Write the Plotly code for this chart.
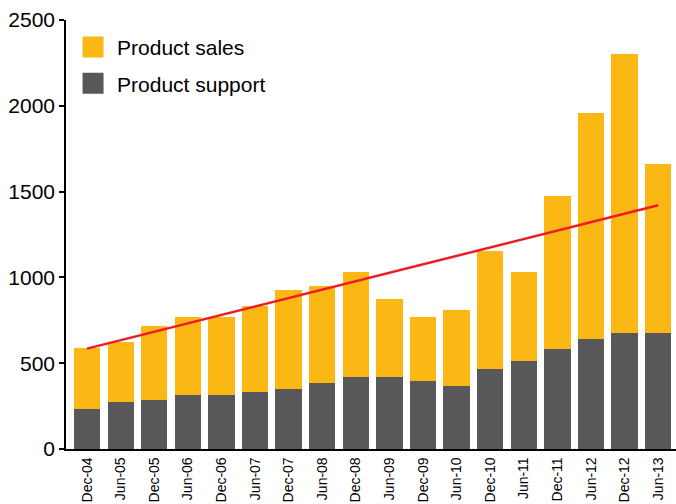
import plotly.graph_objects as go

periods = ["Dec-04", "Jun-05", "Dec-05", "Jun-06", "Dec-06", "Jun-07", "Dec-07", "Jun-08",
           "Dec-08", "Jun-09", "Dec-09", "Jun-10", "Dec-10", "Jun-11", "Dec-11", "Jun-12",
           "Dec-12", "Jun-13"]
product_support = [235, 275, 285, 315, 315, 335, 350, 385, 420, 420, 395, 370, 465, 510, 580, 640, 675, 675]
product_total = [590, 625, 715, 770, 770, 835, 925, 950, 1030, 875, 770, 810, 1155, 1030, 1475, 1960, 2300, 1660]
product_sales = [t - s for t, s in zip(product_total, product_support)]
trend_x = [periods[0], periods[-1]]
trend_y = [585, 1420]
y_ticks = [0, 500, 1000, 1500, 2000, 2500]

YELLOW = "#FBB814"
GREY = "#58585A"
RED = "#ED1C24"
FONT = "Liberation Sans, Arial, Helvetica, sans-serif"

fig = go.Figure()
fig.add_trace(go.Bar(x=periods, y=product_support, marker=dict(color=GREY, line=dict(width=0)),
                     showlegend=False, name="Product support"))
fig.add_trace(go.Bar(x=periods, y=product_sales, marker=dict(color=YELLOW, line=dict(width=0)),
                     showlegend=False, name="Product sales"))
fig.add_trace(go.Scatter(x=trend_x, y=trend_y, mode="lines", line=dict(color=RED, width=2.5),
                         showlegend=False, hoverinfo="skip"))
# legend entries
fig.add_trace(go.Scatter(x=[None], y=[None], mode="markers", name="Product sales", legendgroup="a",
                         marker=dict(symbol="square", size=16, color=YELLOW, line=dict(color=YELLOW, width=5))))
fig.add_trace(go.Scatter(x=[None], y=[None], mode="markers", name="Product support", legendgroup="b",
                         marker=dict(symbol="square", size=16, color=GREY, line=dict(color=GREY, width=5))))

fig.update_layout(
    width=676, height=504,
    margin=dict(l=66, r=0, t=20, b=55),
    barmode="stack", bargap=0.22,
    plot_bgcolor="white", paper_bgcolor="white",
    font=dict(family=FONT, color="black"),
    legend=dict(x=0.005, y=0.984, xanchor="left", yanchor="top", font=dict(size=21, family=FONT),
                itemwidth=38, traceorder="grouped", tracegroupgap=6, bgcolor="rgba(0,0,0,0)"),
    xaxis=dict(type="category", range=[-0.625, 17.53], showgrid=False, showline=True,
               linecolor="black", linewidth=1.5, tickangle=-90, ticks="outside", ticklen=1,
               tickcolor="rgba(0,0,0,0)", automargin=False,
               tickfont=dict(size=14, family=FONT)),
    yaxis=dict(range=[0, 2500], tickvals=y_ticks, showgrid=False, showline=True, linecolor="black",
               linewidth=1.5, ticks="outside", ticklen=5, tickcolor="black", tickwidth=1.5,
               tickfont=dict(size=21, family=FONT), zeroline=False, automargin=False),
)

fig.write_html("out.html")
